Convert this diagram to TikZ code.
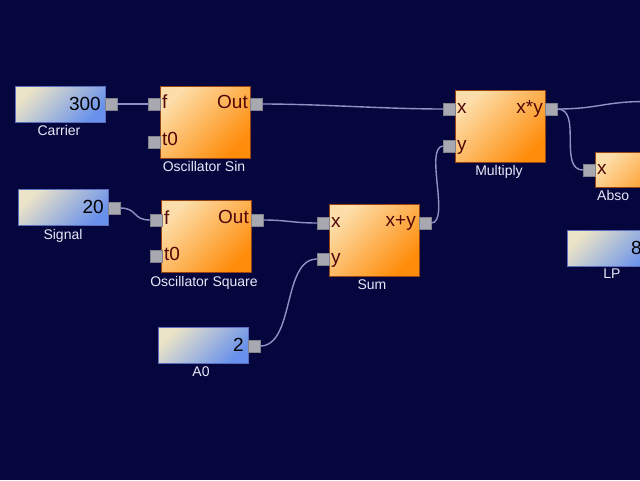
\documentclass[tikz,border=0pt]{standalone}
\usepackage{fontspec}
\setmainfont{Liberation Sans}
\definecolor{bgcol}{RGB}{6,6,62}
\definecolor{orlight}{RGB}{253,222,170}
\definecolor{ordark}{RGB}{255,140,10}
\definecolor{oredge}{RGB}{150,70,20}
\definecolor{cslight}{RGB}{236,228,200}
\definecolor{csdark}{RGB}{105,145,235}
\definecolor{csedge}{RGB}{90,110,190}
\definecolor{portgray}{RGB}{168,168,176}
\definecolor{portedge}{RGB}{130,130,140}
\definecolor{wirecol}{RGB}{145,145,195}
\definecolor{plabcol}{RGB}{80,8,8}
\definecolor{capcol}{RGB}{232,232,248}
\begin{document}
\begin{tikzpicture}[x=1pt,y=-1pt,
  blk/.style={draw=oredge, line width=0.6pt, top color=orlight, bottom color=ordark, shading angle=45, minimum width=90pt, minimum height=72pt, inner sep=0pt, outer sep=0pt},
  cst/.style={draw=csedge, line width=0.6pt, top color=cslight, bottom color=csdark, shading angle=45, minimum width=90pt, minimum height=36pt, inner sep=0pt, outer sep=0pt},
  port/.style={fill=portgray, draw=portedge, line width=0.4pt, minimum width=12pt, minimum height=12pt, inner sep=0pt, outer sep=0pt},
  wire/.style={draw=wirecol, line width=1.4pt},
  plab/.style={text=plabcol, font=\fontsize{19}{19}\selectfont, inner sep=0pt, text height=13.5pt, text depth=4pt},
  val/.style={text=black, font=\fontsize{19}{19}\selectfont, inner sep=0pt, text height=13.5pt, text depth=0pt},
  captxt/.style={text=capcol, font=\fontsize{14}{14}\selectfont, inner sep=0pt, text height=10pt, text depth=3pt}
]
\useasboundingbox (0,0) rectangle (640,480);
\fill[bgcol] (0,0) rectangle (640,480);
\clip (0,0) rectangle (640,480);

% Carrier
\node[cst] (car) at (60,104.5) {};
\node[port] (carP) at (111,104) {};
\node[val, anchor=east] (carV) at (101,104) {300};
\node[captxt] (carL) at (59,132) {Carrier};

% Oscillator Sin
\node[blk] (osin) at (205,122) {};
\node[port] (osinF) at (154,104) {};
\node[port] (osinT) at (154,142) {};
\node[port] (osinO) at (256,104) {};
\node[plab, anchor=west] (osinFl) at (162,104) {f};
\node[plab, anchor=west] (osinTl) at (162,141) {t0};
\node[plab, anchor=east] (osinOl) at (248,104) {Out};
\node[captxt] (osinL) at (204,168) {Oscillator Sin};

% Signal
\node[cst] (sig) at (63.5,207) {};
\node[port] (sigP) at (114,208) {};
\node[val, anchor=east] (sigV) at (104,207) {20};
\node[captxt] (sigL) at (63,236) {Signal};

% Oscillator Square
\node[blk] (osq) at (206.5,236.5) {};
\node[port] (osqF) at (156,220) {};
\node[port] (osqT) at (156,256) {};
\node[port] (osqO) at (257,220) {};
\node[plab, anchor=west] (osqFl) at (164,220) {f};
\node[plab, anchor=west] (osqTl) at (164,256) {t0};
\node[plab, anchor=east] (osqOl) at (249,219) {Out};
\node[captxt] (osqL) at (204,283) {Oscillator Square};

% Sum
\node[blk] (sum) at (374,240) {};
\node[port] (sumX) at (323,223) {};
\node[port] (sumY) at (323,259) {};
\node[port] (sumO) at (425,223) {};
\node[plab, anchor=west] (sumXl) at (331,223) {x};
\node[plab, anchor=west] (sumYl) at (331,259) {y};
\node[plab, anchor=east] (sumOl) at (416,222) {x+y};
\node[captxt] (sumL) at (372,286) {Sum};

% A0
\node[cst] (a0) at (203,345) {};
\node[port] (a0P) at (254,346) {};
\node[val, anchor=east] (a0V) at (244,345) {2};
\node[captxt] (a0L) at (201,373) {A0};

% Multiply
\node[blk] (mul) at (500.5,126.5) {};
\node[port] (mulX) at (449.5,109) {};
\node[port] (mulY) at (449.5,146) {};
\node[port] (mulO) at (551.5,109) {};
\node[plab, anchor=west] (mulXl) at (457,109) {x};
\node[plab, anchor=west] (mulYl) at (457,146) {y};
\node[plab, anchor=east] (mulOl) at (543,109) {x*y};
\node[captxt] (mulL) at (499,172) {Multiply};

% Abs (clipped)
\node[blk, minimum height=35pt] (abs) at (640,169.5) {};
\node[port] (absX) at (589,170) {};
\node[plab, anchor=west] (absXl) at (597,170) {x};
\node[captxt, anchor=west] (absL) at (597,197) {Abso};

% LP (clipped)
\node[cst] (lp) at (612,248.5) {};
\node[val, anchor=west] (lpV) at (631,248) {8};
\node[captxt] (lpL) at (612,275) {LP};

\coordinate (exitR) at (645,101.5);

% wires
\draw[wire] (carP.east) -- (osinF.west);
\draw[wire] (osinO.east) .. controls +(60,0) and +(-60,0) .. (mulX.west);
\draw[wire] (sigP.east) .. controls +(18,0) and +(-18,0) .. (osqF.west);
\draw[wire] (osqO.east) .. controls +(25,0) and +(-25,0) .. (sumX.west);
\draw[wire] (a0P.east) .. controls +(35,0) and +(-35,0) .. (sumY.west);
\draw[wire] (sumO.east) .. controls +(20,0) and +(-20,0) .. (mulY.west);
\draw[wire] (mulO.east) .. controls +(25,0) and +(-25,0) .. (absX.west);
\draw[wire] (mulO.east) .. controls +(40,0) and +(-40,0) .. (exitR);
\end{tikzpicture}
\end{document}
